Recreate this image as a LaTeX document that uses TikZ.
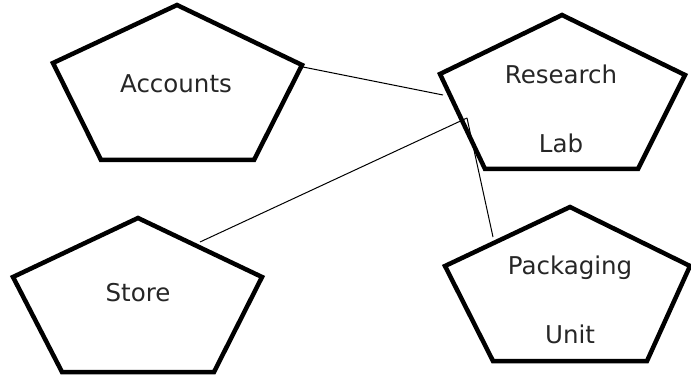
\documentclass[tikz,border=0pt]{standalone}
\usepackage{fontspec}
\setmainfont{DejaVu Sans}
\begin{document}
\begin{tikzpicture}  [
    x=1pt, y=-1pt,
    penta/.style={draw=black, line width=4.5pt, fill=white},
    txt/.style={anchor=base, align=center, inner sep=0pt, text=black!85, font=\fontsize{24.5}{69}\selectfont},
    wire/.style={draw=black, line width=1pt},
  ]
\useasboundingbox[fill=white] (0,0) rectangle (691,377);

%accounts
\draw[penta] (177,5) -- (302,65) -- (254,160) -- (101,160) -- (53,63) -- cycle;
\node[txt] (acc) at (176,93) {Accounts};

%research lab (base = last line)
\draw[penta] (562,15) -- (685,75) -- (638,169) -- (485,169) -- (440,74) -- cycle;
\node[txt] (lab) at (561,153) {Research\\Lab};

%store
\draw[penta] (138,218) -- (262,277) -- (214,372) -- (62,372) -- (13,277) -- cycle;
\node[txt] (store) at (138,301) {Store};

%packaging unit
\draw[penta] (570,207) -- (690,266) -- (647,361) -- (493,361) -- (445,266) -- cycle;
\node[txt] (pack) at (570,343) {Packaging\\Unit};

%end points of the lines
\coordinate (acc-e) at (303,67);
\coordinate (lab-w) at (443,95);
\coordinate (lab-in) at (467,118);
\coordinate (store-ne) at (200,242);
\coordinate (pack-nw) at (493,237);

\draw[wire] (acc-e) -- (lab-w);
\draw[wire] (store-ne) -- (lab-in);
\draw[wire] (lab-in) -- (pack-nw);
\end{tikzpicture}
\end{document}
